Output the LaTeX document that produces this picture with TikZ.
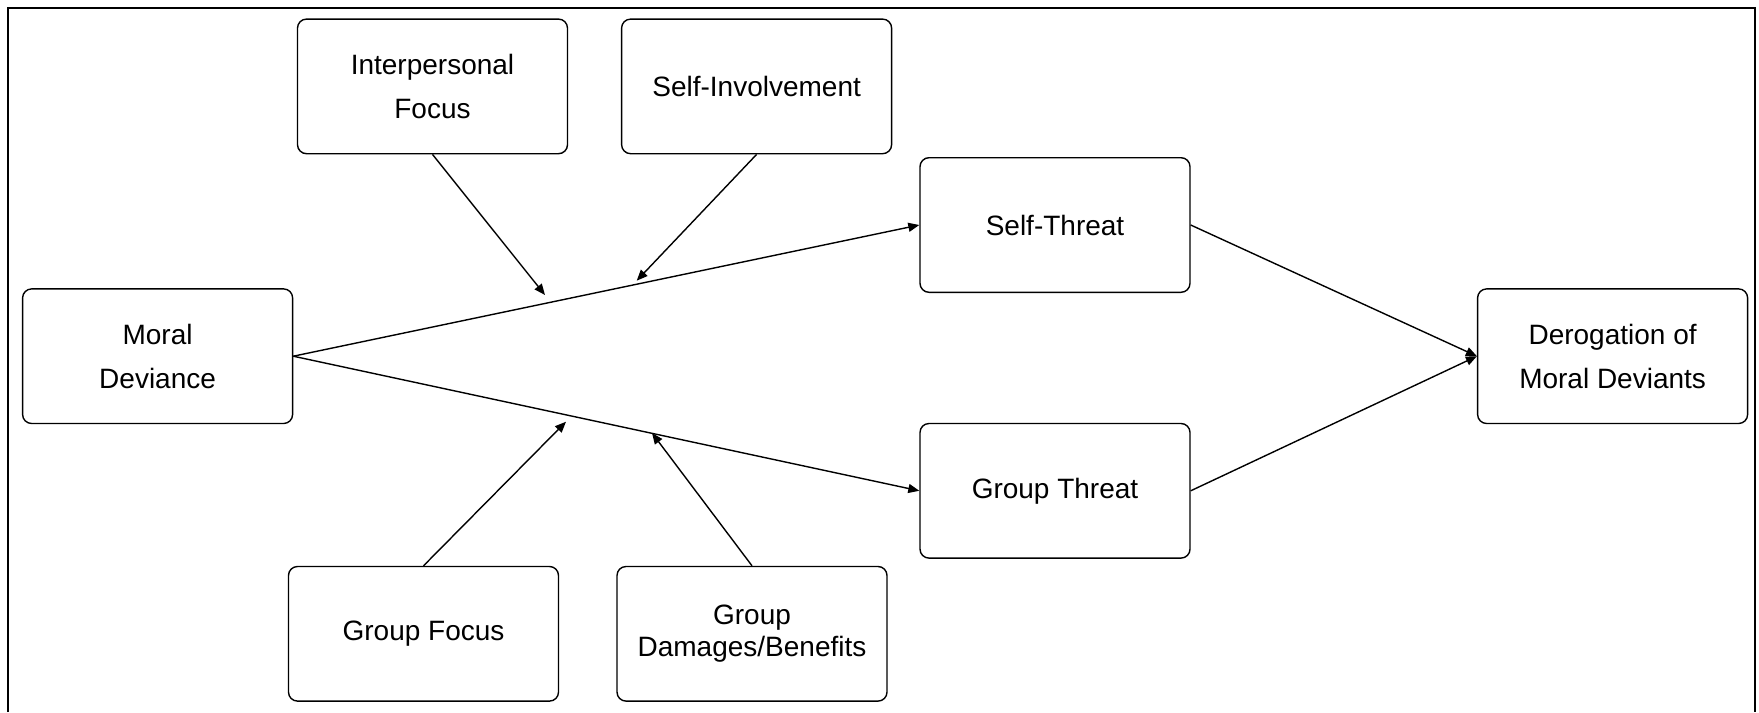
\documentclass[tikz,border=0pt]{standalone}
\usepackage{fontspec}
\setmainfont{Liberation Sans}
\usetikzlibrary{arrows.meta,calc}
\begin{document}
\begin{tikzpicture}[x=0.5pt,y=-0.5pt,
  box/.style={draw, line width=0.7pt, rounded corners=4.5pt,
    minimum width=135pt, minimum height=67.3pt, inner sep=0pt,
    align=center, font=\fontsize{14}{21.8}\selectfont},
  link/.style={line width=0.7pt, -{Triangle[length=5.5pt,width=4.5pt]}},
]
\useasboundingbox (0,0) rectangle (1759,712);

% open frame around the model
\draw[line width=1pt] (8,712) -- (8,7.5) -- (1755,7.5) -- (1755,712);

% constructs
\node[box] (if) at (432.5,86.4)  {Interpersonal\\Focus};
\node[box] (si) at (756.6,86.4)  {Self-Involvement};
\node[box] (st) at (1055,225)    {Self-Threat};
\node[box] (md) at (157.6,356.2) {Moral\\Deviance};
\node[box] (dr) at (1612.6,356.2){Derogation of\\Moral Deviants};
\node[box] (gt) at (1055,490.8)  {Group Threat};
\node[box] (gf) at (423.5,633.8) {Group Focus};
\node[box, font=\fontsize{14}{15.7}\selectfont] (gd) at (752,633.8) {Group\\Damages/Benefits};

% main paths
\draw[link] (md.east) -- (st.west);
\draw[link] (md.east) -- (gt.west);
\draw[link] (st.east) -- (dr.west);
\draw[link] (gt.east) -- (dr.west);

% moderators pointing at the paths
\coordinate (ifhit) at (545,295);
\coordinate (sihit) at (636.7,280.7);
\coordinate (gfhit) at (566,421.7);
\coordinate (gdhit) at (652,433);
\draw[link] (if.south) -- (ifhit);
\draw[link] (si.south) -- (sihit);
\draw[link] (gf.north) -- (gfhit);
\draw[link] (gd.north) -- (gdhit);
\end{tikzpicture}
\end{document}
